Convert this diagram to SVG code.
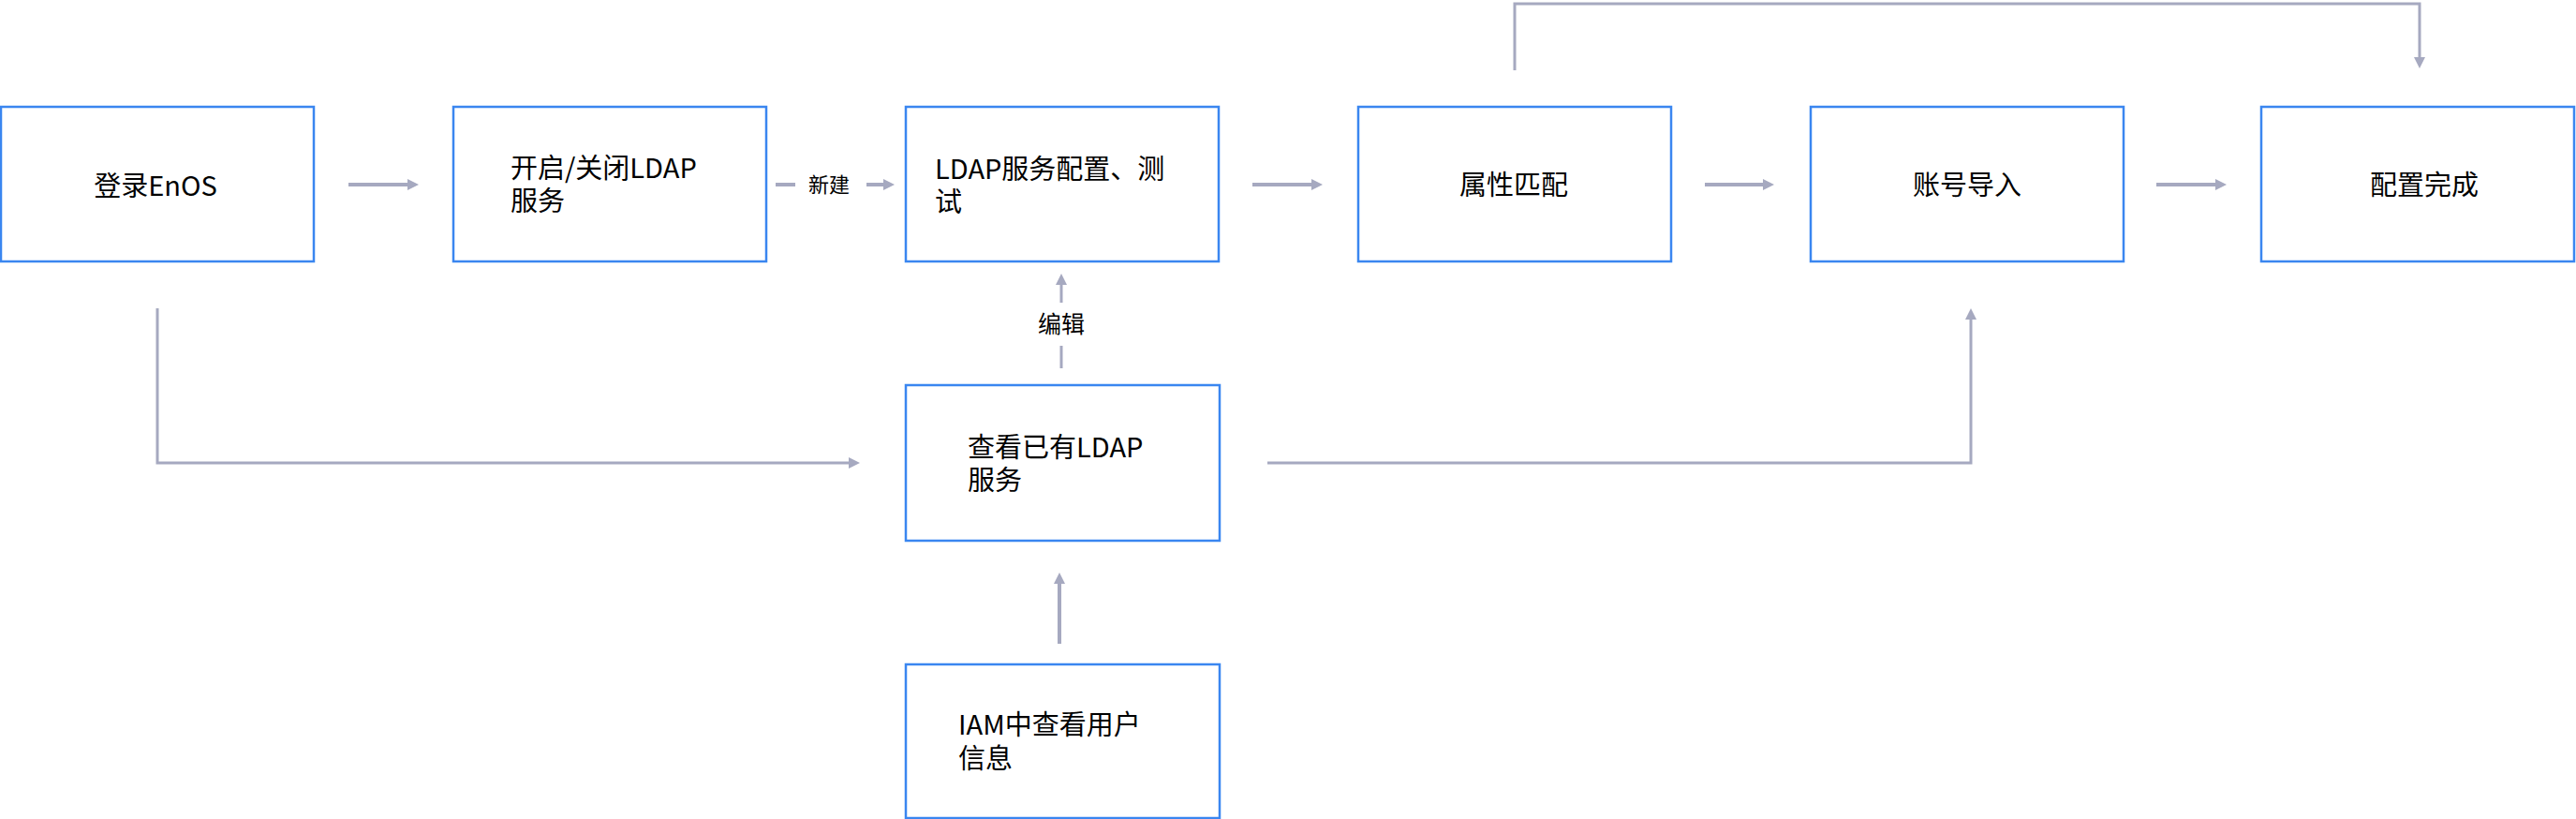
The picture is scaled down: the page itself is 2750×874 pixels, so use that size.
<svg xmlns="http://www.w3.org/2000/svg" width="2750" height="874" viewBox="0 0 2750 874">
<style>
.box{fill:#fff;stroke:#3a86f0;stroke-width:2.5}
.t{font-family:"Noto Sans CJK SC","Noto Sans",sans-serif;font-size:29px;fill:#000}
.c{text-anchor:middle}
.lbl{font-family:"Noto Sans CJK SC","Noto Sans",sans-serif;fill:#000;text-anchor:middle}
.ln{fill:none;stroke:#a6a9c0;stroke-width:4}
.lnt{fill:none;stroke:#a6a9c0;stroke-width:3}
</style>
<defs>
<marker id="ah" markerUnits="userSpaceOnUse" markerWidth="14" markerHeight="14" refX="2" refY="6" orient="auto">
<path d="M0,0 L12,6 L0,12 z" fill="#a6a9c0"/>
</marker>
</defs>
<rect width="2750" height="874" fill="#fff"/>
<g id="connectors">
<line class="ln" x1="372" y1="197" x2="437" y2="197" marker-end="url(#ah)"/>
<line class="ln" x1="828" y1="197" x2="849" y2="197"/>
<text class="lbl" x="885" y="205" font-size="22">新建</text>
<line class="ln" x1="925" y1="197" x2="945" y2="197" marker-end="url(#ah)"/>
<line class="ln" x1="1337" y1="197" x2="1402" y2="197" marker-end="url(#ah)"/>
<line class="ln" x1="1820" y1="197" x2="1884" y2="197" marker-end="url(#ah)"/>
<line class="ln" x1="2302" y1="197" x2="2367" y2="197" marker-end="url(#ah)"/>
<path class="lnt" d="M1617,75 L1617,4 L2583,4 L2583,63" marker-end="url(#ah)"/>
<path class="lnt" d="M168,329 L168,494 L908,494" marker-end="url(#ah)"/>
<path class="lnt" d="M1353,494 L2104,494 L2104,339" marker-end="url(#ah)"/>
<line class="lnt" x1="1133" y1="323" x2="1133" y2="302" marker-end="url(#ah)"/>
<text class="lbl" x="1133" y="355" font-size="25">编辑</text>
<line class="lnt" x1="1133" y1="369" x2="1133" y2="393"/>
<line class="ln" x1="1131" y1="687" x2="1131" y2="621" marker-end="url(#ah)"/>
</g>
<g id="n1"><rect class="box" x="1" y="114" width="334" height="165"/><text class="t c" x="166" y="209">登录EnOS</text></g>
<g id="n2"><rect class="box" x="484" y="114" width="334" height="165"/><text class="t" x="545" y="190">开启/关闭LDAP<tspan x="545" dy="35">服务</tspan></text></g>
<g id="n3"><rect class="box" x="967" y="114" width="334" height="165"/><text class="t" x="998" y="191">LDAP服务配置、测<tspan x="998" dy="35">试</tspan></text></g>
<g id="n4"><rect class="box" x="1450" y="114" width="334" height="165"/><text class="t c" x="1616" y="208">属性匹配</text></g>
<g id="n5"><rect class="box" x="1933" y="114" width="334" height="165"/><text class="t c" x="2100" y="208">账号导入</text></g>
<g id="n6"><rect class="box" x="2414" y="114" width="334" height="165"/><text class="t c" x="2588" y="208">配置完成</text></g>
<g id="n7"><rect class="box" x="967" y="411" width="335" height="166"/><text class="t" x="1033" y="488">查看已有LDAP<tspan x="1033" dy="35">服务</tspan></text></g>
<g id="n8"><rect class="box" x="967" y="709" width="335" height="164"/><text class="t" x="1023" y="784">IAM中查看用户<tspan x="1023" dy="36">信息</tspan></text></g>
</svg>
